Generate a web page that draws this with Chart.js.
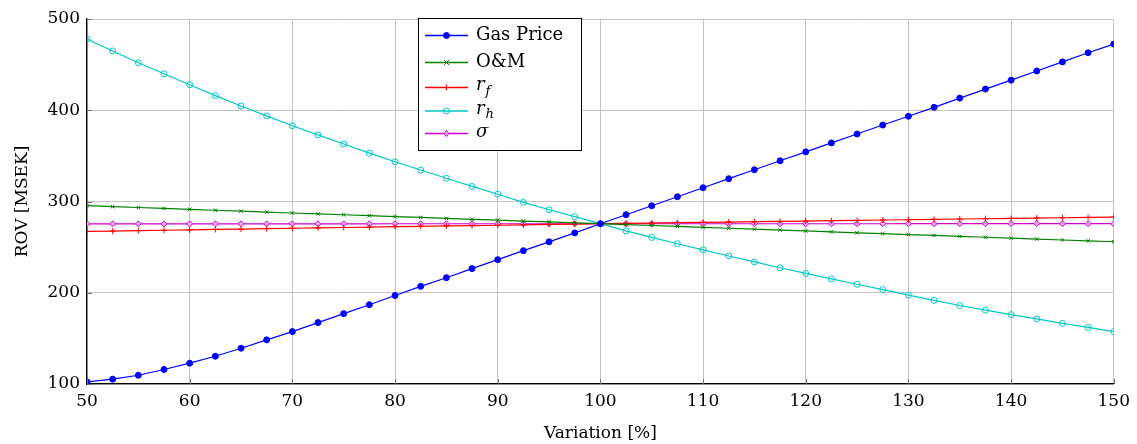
<!DOCTYPE html>
<html>
<head>
<meta charset="utf-8">
<script src="https://cdn.jsdelivr.net/npm/chart.js@4/dist/chart.umd.min.js"></script>
<style>
html,body{margin:0;padding:0;background:#fff;}
#wrap{width:1137px;height:444px;position:relative;}
</style>
</head>
<body>
<div id="wrap"><canvas id="c" width="1137" height="444"></canvas></div>
<script>
const variation = [50,52.5,55,57.5,60,62.5,65,67.5,70,72.5,75,77.5,80,82.5,85,87.5,90,92.5,95,97.5,100,102.5,105,107.5,110,112.5,115,117.5,120,122.5,125,127.5,130,132.5,135,137.5,140,142.5,145,147.5,150];
const gasPrice = [102.4,105.3,109.6,115.9,122.8,130.4,139.2,148.4,157.4,167.3,177.1,186.9,197.0,207.0,216.5,226.5,236.3,246.1,255.8,265.6,275.6,285.5,295.3,305.2,315.1,325.0,334.8,344.6,354.4,364.2,374.0,383.8,393.4,403.2,413.3,423.2,433.0,443.0,453.0,463.0,472.5];
const oAndM = [295.4,294.4,293.4,292.4,291.4,290.4,289.4,288.4,287.4,286.4,285.5,284.5,283.5,282.5,281.5,280.5,279.6,278.6,277.6,276.6,275.7,274.7,273.7,272.7,271.7,270.7,269.7,268.7,267.7,266.7,265.7,264.8,263.8,262.8,261.8,260.8,259.8,258.8,257.8,256.8,255.9];
const rF = [267.2,267.6,268.1,268.5,268.9,269.4,269.8,270.3,270.7,271.1,271.5,271.9,272.4,272.8,273.2,273.6,274.0,274.4,274.9,275.3,275.7,276.1,276.4,276.8,277.2,277.5,277.9,278.2,278.6,279.0,279.3,279.7,280.0,280.4,280.8,281.1,281.5,281.8,282.2,282.5,282.9];
const rH = [478.0,465.0,452.0,440.0,428.0,416.0,404.7,393.8,383.0,373.0,363.0,353.0,343.5,334.5,325.5,316.5,308.0,299.0,291.0,283.4,275.7,267.8,260.6,253.7,247.0,240.3,233.8,227.4,221.2,215.2,209.3,203.5,197.4,191.7,186.0,181.0,176.0,171.3,166.5,162.0,157.4];
const sigma = [275.5,275.5,275.5,275.5,275.5,275.5,275.5,275.5,275.5,275.5,275.5,275.5,275.6,275.6,275.6,275.6,275.6,275.6,275.6,275.6,275.6,275.6,275.6,275.6,275.6,275.6,275.6,275.6,275.6,275.6,275.6,275.6,275.7,275.7,275.7,275.7,275.7,275.7,275.7,275.7,275.7];
const xTicks = [50,60,70,80,90,100,110,120,130,140,150];
const yTicks = [100,200,300,400,500];

const FONT = "'DejaVu Serif', serif";
const toXY = arr => arr.map((v,i)=>({x:variation[i], y:v}));

const series = [
  {label:'Gas Price', data:gasPrice, color:'#0000ff', style:'circle', radius:3, fill:'#0000ff'},
  {label:'O&M', data:oAndM, color:'#008000', style:'crossRot', radius:2.5, fill:'#008000'},
  {label:'r|f', data:rF, color:'#ff0000', style:'cross', radius:3, fill:'#ff0000'},
  {label:'r|h', data:rH, color:'#00c8c8', style:'circle', radius:3, fill:'rgba(0,0,0,0)'},
  {label:'σ', data:sigma, color:'#d000d0', style:'rectRot', radius:3, fill:'#f0b0f0'}
];

function drawMarker(ctx, s, x, y){
  ctx.save();
  ctx.strokeStyle = s.color; ctx.fillStyle = s.fill; ctx.lineWidth = 1;
  const r = s.radius;
  ctx.beginPath();
  if (s.style==='circle'){ ctx.arc(x,y,r,0,Math.PI*2); ctx.fill(); ctx.stroke(); }
  else if (s.style==='crossRot'){ ctx.moveTo(x-r,y-r);ctx.lineTo(x+r,y+r);ctx.moveTo(x-r,y+r);ctx.lineTo(x+r,y-r);ctx.stroke(); }
  else if (s.style==='cross'){ ctx.moveTo(x-r,y);ctx.lineTo(x+r,y);ctx.moveTo(x,y-r);ctx.lineTo(x,y+r);ctx.stroke(); }
  else if (s.style==='rectRot'){ ctx.moveTo(x,y-r);ctx.lineTo(x+r*0.8,y);ctx.lineTo(x,y+r);ctx.lineTo(x-r*0.8,y);ctx.closePath();ctx.fill();ctx.stroke(); }
  ctx.restore();
}

const legendPlugin = {
  id:'customLegend',
  afterDraw(chart){
    const ctx = chart.ctx;
    const bx=418, by=18, bw=163, bh=132;
    ctx.save();
    ctx.fillStyle='#fff'; ctx.fillRect(bx,by,bw,bh);
    ctx.strokeStyle='#000'; ctx.lineWidth=1; ctx.strokeRect(bx+0.5,by+0.5,bw,bh);
    const rows=[35.5,62.5,87.5,111,133.5];
    series.forEach((s,i)=>{
      const y=rows[i];
      ctx.strokeStyle=s.color; ctx.lineWidth=1.3;
      ctx.beginPath(); ctx.moveTo(425,y); ctx.lineTo(468,y); ctx.stroke();
      drawMarker(ctx,s,446.5,y);
      ctx.fillStyle='#000'; ctx.textBaseline='middle'; ctx.textAlign='left';
      if (s.label.includes('|')){
        const [m,sub]=s.label.split('|');
        ctx.font="italic 18px "+FONT;
        ctx.fillText(m,476,y-2);
        const w=ctx.measureText(m).width;
        ctx.font="italic 13px "+FONT;
        ctx.fillText(sub,476+w+1,y+4);
      } else if (s.label==='σ'){
        ctx.font="italic 18px "+FONT;
        ctx.fillText(s.label,476,y-1);
      } else {
        ctx.font="18px "+FONT;
        ctx.fillText(s.label,476,y);
      }
    });
    ctx.restore();
  }
};

const innerTicks = {
  id:'innerTicks',
  afterDatasetsDraw(chart){
    const {ctx, chartArea:a, scales:{x,y}} = chart;
    ctx.save();
    ctx.strokeStyle='#707070'; ctx.lineWidth=1;
    ctx.beginPath();
    xTicks.forEach(v=>{const px=Math.round(x.getPixelForValue(v))+0.5; ctx.moveTo(px,a.bottom); ctx.lineTo(px,a.bottom-5);});
    yTicks.forEach(v=>{const py=Math.round(y.getPixelForValue(v))+0.5; ctx.moveTo(a.left,py); ctx.lineTo(a.left+5,py);});
    ctx.stroke();
    ctx.restore();
  }
};

new Chart(document.getElementById('c'), {
  type:'line',
  data:{
    datasets: series.map(s=>({
      label:s.label,
      data:toXY(s.data),
      borderColor:s.color,
      backgroundColor:s.fill,
      pointBorderColor:s.color,
      pointBackgroundColor:s.fill,
      pointStyle:s.style,
      pointRadius:s.radius,
      pointBorderWidth:1,
      borderWidth:1.2,
      tension:0,
      fill:false
    }))
  },
  options:{
    responsive:false,
    animation:false,
    events:[],
    layout:{padding:{top:19,right:23,left:0,bottom:0}},
    plugins:{legend:{display:false},tooltip:{enabled:false}},
    scales:{
      x:{
        type:'linear', min:50, max:150,
        afterBuildTicks(sc){ sc.ticks = xTicks.map(v=>({value:v})); },
        afterFit(sc){ sc.height=60; },
        grid:{color:'#c4c4c4', lineWidth:1, drawTicks:false},
        border:{color:'#000', width:1.3},
        ticks:{font:{family:FONT,size:17}, color:'#000', padding:7, maxRotation:0},
        title:{display:true, text:'Variation [%]', font:{family:FONT,size:17}, color:'#000', padding:{top:2,bottom:0}}
      },
      y:{
        min:100, max:500,
        afterBuildTicks(sc){ sc.ticks = yTicks.map(v=>({value:v})); },
        afterFit(sc){ sc.width=87; },
        grid:{color:'#c4c4c4', lineWidth:1, drawTicks:false},
        border:{color:'#000', width:1.3},
        ticks:{font:{family:FONT,size:17}, color:'#000', padding:7},
        title:{display:true, text:'ROV [MSEK]', font:{family:FONT,size:17}, color:'#000', padding:{top:12,bottom:0}}
      }
    }
  },
  plugins:[innerTicks, legendPlugin]
});
</script>
</body>
</html>
